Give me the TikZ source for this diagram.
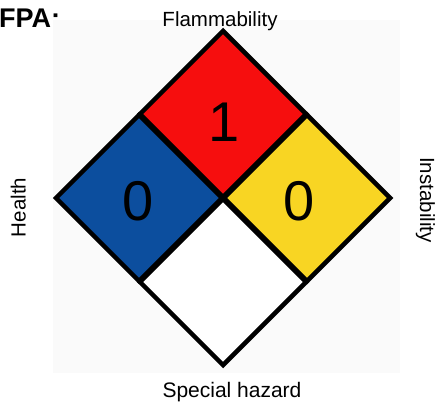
\documentclass[tikz,border=0pt]{standalone}
\usepackage{fontspec}
\setmainfont{Liberation Sans}
\usetikzlibrary{shapes.geometric}
\definecolor{firered}{RGB}{246,14,14}
\definecolor{healthblue}{RGB}{12,78,158}
\definecolor{reactyellow}{RGB}{248,213,35}
\begin{document}
\begin{tikzpicture}[x=1pt,y=-1pt,
    quad/.style={shape=diamond,draw=black,line width=4.5pt,minimum width=168pt,minimum height=168pt,inner sep=0pt},
    lbl/.style={inner sep=0pt,font=\fontsize{20.5}{24}\selectfont},
    num/.style={inner sep=0pt,anchor=base,font=\fontsize{56}{60}\selectfont}]
    \useasboundingbox (0,0) rectangle (435,403);
    \node[inner sep=0pt,anchor=base west,font=\fontsize{27}{30}\selectfont\bfseries] (title) at (-1,28) {FPA:};
    \fill[black!2] (53,20) rectangle (400,373);

    \node[quad,fill=firered] (flam) at (223,114) {};
    \node[quad,fill=healthblue] (health) at (139,198) {};
    \node[quad,fill=reactyellow] (instab) at (307,198) {};
    \node[quad,fill=white] (special) at (223,282) {};

    \node[num] (flamnum) at (224,142) {1};
    \node[num] (healthnum) at (138,220) {0};
    \node[num] (instabnum) at (299,220) {0};

    \node[lbl,anchor=base] (flamlbl) at (220,27) {Flammability};
    \node[lbl,anchor=base,rotate=90] (healthlbl) at (25.5,207.5) {Health};
    \node[lbl,anchor=base,rotate=-90] (instablbl) at (420,200) {Instability};
    \node[lbl,anchor=base,font=\fontsize{21}{24}\selectfont] (speciallbl) at (232,397) {Special hazard};

 \end{tikzpicture}
\end{document}
